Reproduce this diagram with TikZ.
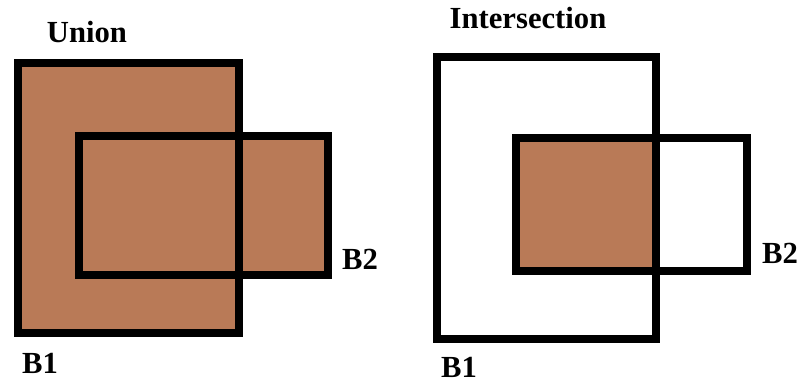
\documentclass[tikz,border=0pt]{standalone}
\usepackage{fontspec}
\setmainfont{Liberation Serif}
\usepackage{tikz}
\definecolor{boxbrown}{RGB}{185,122,87}
\begin{document}
\begin{tikzpicture}[x=0.75pt,y=-0.75pt,
  boxline/.style={line width=6pt,line join=miter},
  lbl/.style={anchor=base,inner sep=0pt,font=\fontsize{23}{23}\selectfont\bfseries}]
\useasboundingbox (0,0) rectangle (803,385);
% union
\fill[boxbrown] (18,63) rectangle (239,333);
\fill[boxbrown] (79,136) rectangle (328,275);
\draw[boxline] (18,63) rectangle (239,333);
\draw[boxline] (79,136) rectangle (328,275);
\node[lbl] (union) at (87,43) {Union};
\node[lbl] (ub2) at (360,269) {B2};
\node[lbl] (ub1) at (40,373) {B1};
% intersection
\fill[boxbrown] (516,138) rectangle (656,271);
\draw[boxline] (437,57) rectangle (656,339);
\draw[boxline] (516,138) rectangle (747,271);
\node[lbl] (inter) at (528,29) {Intersection};
\node[lbl] (ib2) at (780,263) {B2};
\node[lbl] (ib1) at (459,377) {B1};
\end{tikzpicture}
\end{document}
